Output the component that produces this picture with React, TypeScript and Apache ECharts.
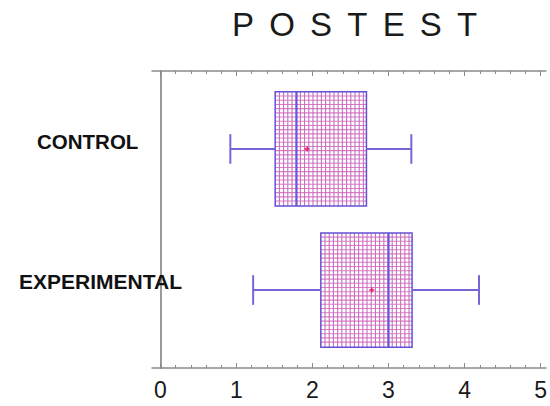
import React, { useEffect, useRef } from "react";
import * as echarts from "echarts";

const categories = ["CONTROL", "EXPERIMENTAL"];
const whiskerLow = [0.92, 1.22];
const q1 = [1.51, 2.11];
const median = [1.79, 3.0];
const q3 = [2.71, 3.31];
const whiskerHigh = [3.3, 4.19];
const means = [1.93, 2.78];
const xTicks = [0, 1, 2, 3, 4, 5];
const xMinorTicks = [
  0.2, 0.4, 0.6, 0.8, 1.2, 1.4, 1.6, 1.8, 2.2, 2.4, 2.6, 2.8, 3.2, 3.4, 3.6, 3.8,
  4.2, 4.4, 4.6, 4.8,
];
const titleText = "POSTEST";

export default function App() {
  const ref = useRef<HTMLDivElement>(null);
  useEffect(() => {
    if (!ref.current) return;
    const chart = echarts.init(ref.current, undefined, { renderer: "svg" });
    const data = categories.map((c, i) => [
      i + 1,
      whiskerLow[i],
      q1[i],
      median[i],
      q3[i],
      whiskerHigh[i],
      means[i],
    ]);
    const BOX_H = 0.81;
    const CAP_H = 0.21;
    const renderItem = (params: any, api: any) => {
      const y = api.value(0);
      const lo = api.coord([api.value(1), y]);
      const b1 = api.coord([api.value(2), y]);
      const md = api.coord([api.value(3), y]);
      const b3 = api.coord([api.value(4), y]);
      const hi = api.coord([api.value(5), y]);
      const mn = api.coord([api.value(6), y]);
      const half = api.size([0, BOX_H])[1] / 2;
      const cap = api.size([0, CAP_H])[1] / 2;
      const cy = lo[1];
      const top = cy - half;
      const bot = cy + half;
      const children: any[] = [];
      children.push({
        type: "rect",
        shape: { x: b1[0], y: top, width: b3[0] - b1[0], height: bot - top },
        style: { fill: "#fff", stroke: null },
      });
      const step = 4.2;
      for (let x = b1[0] + step; x < b3[0] - 1; x += step) {
        children.push({
          type: "line",
          shape: { x1: x, y1: top, x2: x, y2: bot },
          style: { stroke: "#b458b8", lineWidth: 1.1, opacity: 0.85 },
        });
      }
      for (let yy = top + step; yy < bot - 1; yy += step) {
        children.push({
          type: "line",
          shape: { x1: b1[0], y1: yy, x2: b3[0], y2: yy },
          style: { stroke: "#d466b8", lineWidth: 1.1, opacity: 0.85 },
        });
      }
      children.push({
        type: "rect",
        shape: { x: b1[0], y: top, width: b3[0] - b1[0], height: bot - top },
        style: { fill: null, stroke: "#6450d8", lineWidth: 1.5 },
      });
      children.push({
        type: "line",
        shape: { x1: md[0], y1: top, x2: md[0], y2: bot },
        style: { stroke: "#6a58d8", lineWidth: 2.2 },
      });
      const wStyle = { stroke: "#7566d8", lineWidth: 2 };
      children.push({ type: "line", shape: { x1: lo[0], y1: cy, x2: b1[0], y2: cy }, style: wStyle });
      children.push({ type: "line", shape: { x1: b3[0], y1: cy, x2: hi[0], y2: cy }, style: wStyle });
      children.push({ type: "line", shape: { x1: lo[0], y1: cy - cap, x2: lo[0], y2: cy + cap }, style: wStyle });
      children.push({ type: "line", shape: { x1: hi[0], y1: cy - cap, x2: hi[0], y2: cy + cap }, style: wStyle });
      const ms = { stroke: "#e8206a", lineWidth: 1.5 };
      children.push({ type: "line", shape: { x1: mn[0] - 2.5, y1: cy, x2: mn[0] + 2.5, y2: cy }, style: ms });
      children.push({ type: "line", shape: { x1: mn[0], y1: cy - 2.5, x2: mn[0], y2: cy + 2.5 }, style: ms });
      return { type: "group", children };
    };

    const xMin = -0.11;
    const xMax = 5.07;
    const axisColor = "#8a8a8a";
    const letters = titleText.split("");
    const titleRich = letters
      .map((ch, i) => (i < letters.length - 1 ? `{l|${ch}}` : `{z|${ch}}`))
      .join("");
    const letterStyle = {
      fontFamily: "Liberation Sans",
      fontSize: 33,
      fontWeight: "normal",
      color: "#1a1a1a",
    };
    chart.setOption({
      animation: false,
      backgroundColor: "#ffffff",
      title: {
        text: titleRich,
        left: 232,
        top: 8,
        padding: 0,
        textStyle: {
          ...letterStyle,
          rich: {
            l: { ...letterStyle, padding: [0, 15.2, 0, 0] },
            z: { ...letterStyle },
          },
        },
      },
      grid: { left: 152, right: 0, top: 71, bottom: 38, containLabel: false },
      xAxis: [
        {
          type: "value",
          position: "bottom",
          min: xMin,
          max: xMax,
          axisLine: { show: true, lineStyle: { color: axisColor, width: 1.5 } },
          axisTick: { show: true, inside: true, length: 5, customValues: xTicks, lineStyle: { color: axisColor } },
          axisLabel: {
            customValues: xTicks,
            fontFamily: "Liberation Sans",
            fontSize: 23,
            color: "#1a1a1a",
            margin: 10,
          },
          splitLine: { show: false },
        },
        {
          type: "value",
          position: "bottom",
          min: xMin,
          max: xMax,
          axisLine: { show: false },
          axisTick: { show: true, inside: true, length: 3, customValues: xMinorTicks, lineStyle: { color: axisColor } },
          axisLabel: { show: false },
          splitLine: { show: false },
        },
        {
          type: "value",
          position: "top",
          min: xMin,
          max: xMax,
          axisLine: { show: true, lineStyle: { color: axisColor, width: 1.5 } },
          axisTick: { show: true, inside: true, length: 5, customValues: xTicks, lineStyle: { color: axisColor } },
          axisLabel: { show: false },
          splitLine: { show: false },
        },
        {
          type: "value",
          position: "top",
          min: xMin,
          max: xMax,
          axisLine: { show: false },
          axisTick: { show: true, inside: true, length: 3, customValues: xMinorTicks, lineStyle: { color: axisColor } },
          axisLabel: { show: false },
          splitLine: { show: false },
        },
      ],
      yAxis: {
        type: "value",
        inverse: true,
        min: 0.447,
        max: 2.553,
        axisLine: { show: true, lineStyle: { color: "#9a9a9a", width: 2 } },
        axisTick: { show: false },
        splitLine: { show: false },
        axisLabel: {
          customValues: [1, 2],
          align: "left",
          margin: 134,
          formatter: (v: number) => {
            const i = Math.round(v) - 1;
            return i === 0 ? `{c|${categories[0]}}` : `{e|${categories[1]}}`;
          },
          rich: {
            c: {
              fontFamily: "Liberation Sans",
              fontWeight: "bold",
              fontSize: 20.5,
              color: "#111",
              padding: [0, 0, 14, 19],
            },
            e: {
              fontFamily: "Liberation Sans",
              fontWeight: "bold",
              fontSize: 21,
              color: "#111",
              padding: [0, 0, 18, 1],
            },
          },
        },
      },
      series: [
        {
          type: "custom",
          xAxisIndex: 0,
          yAxisIndex: 0,
          renderItem,
          encode: { x: [1, 2, 3, 4, 5, 6], y: 0 },
          data,
          clip: false,
        },
      ],
    });
    return () => chart.dispose();
  }, []);
  return (
    <div
      ref={ref}
      style={{ position: "fixed", left: 0, top: 0, width: 550, height: 406 }}
    />
  );
}
